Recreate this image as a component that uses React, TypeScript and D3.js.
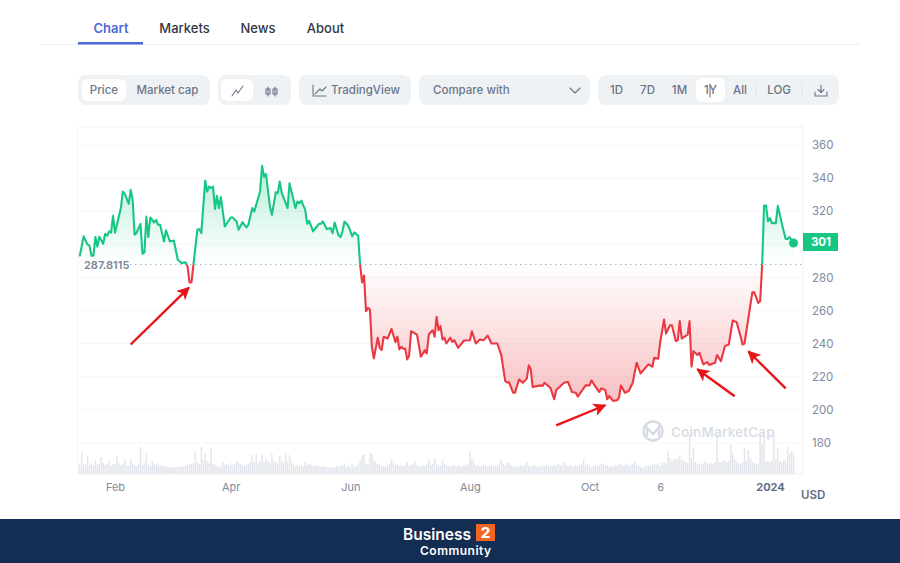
import * as d3 from "d3";
import { useEffect, useRef } from "react";

const startDate = new Date(Date.UTC(2023, 0, 14));
const referencePrice = 287.8115;
const lastPriceLabel = "301";

// days since startDate
const priceDays = [
  0, 2, 4, 5, 6, 7, 8, 9, 10, 12, 13, 14, 15, 16, 17, 18, 21, 22, 23, 25, 26, 27, 28, 29, 31, 32, 33, 34, 35, 36,
  38, 39, 40, 41, 43, 44, 46, 48, 50, 52, 54, 55, 56, 57, 58, 60, 61, 62, 64, 65, 66, 67, 68, 69, 70, 71, 72, 74, 77, 78,
  80, 81, 83, 85, 86, 88, 89, 92, 93, 94, 95, 97, 98, 100, 101, 102, 103, 106, 107, 110, 111, 112, 113, 115, 116, 117, 119, 122, 123, 124,
  126, 128, 129, 130, 132, 133, 134, 135, 137, 139, 140, 142, 143, 144, 145, 146, 147, 148, 149, 150, 152, 153, 154, 155, 157, 159, 161, 162, 163, 164,
  165, 166, 167, 168, 169, 172, 174, 176, 177, 178, 180, 181, 182, 183, 184, 185, 186, 187, 189, 190, 191, 193, 196, 199, 200, 202, 204, 206, 208, 210,
  213, 215, 217, 218, 219, 221, 222, 224, 226, 228, 229, 230, 231, 235, 236, 237, 240, 242, 243, 247, 249, 251, 253, 254, 258, 260, 261, 263, 265, 266,
  268, 269, 270, 272, 274, 275, 276, 278, 280, 282, 284, 286, 290, 292, 293, 295, 296, 298, 299, 301, 302, 304, 305, 306, 307, 310, 311, 312, 313, 315,
  316, 318, 320, 321, 324, 325, 327, 329, 331, 333, 335, 337, 338, 339, 343, 344, 346, 347, 348, 349, 350, 351, 352, 353, 355, 356, 358, 360, 361, 362,
  364,
];

const priceValues = [
  292.7, 304.8, 299.8, 299.2, 293.1, 293.1, 304.4, 298.7, 304.6, 300.4, 306.4, 305.2, 307.8, 307, 317.2, 307, 322, 331.9, 330.5, 324.5, 332.9, 326.9, 305.8, 307, 312.4, 294.3, 295.1, 316.8, 304.4, 316.2,
  313.2, 314.8, 311.8, 311.8, 301.7, 308.4, 301.7, 302.3, 290.7, 288.7, 289.1, 286.7, 277, 277, 287.7, 308.8, 309.2, 306.8, 338.5, 331.9, 334.9, 334.1, 334.9, 321.4, 329.3, 321.9, 328.5, 310.8, 316.2, 316.2,
  313.8, 308.8, 313.4, 310.2, 311.8, 321.9, 319.8, 331.9, 347.5, 340.9, 342.5, 322.8, 317.8, 331.5, 330.9, 337.9, 331.3, 321.9, 336.9, 321.9, 325.8, 324.9, 326.4, 320.8, 312.4, 314.2, 307.8, 312.4, 312.4, 313.8,
  309.2, 309.8, 306.8, 313.2, 305.4, 304.4, 307.8, 313.8, 311.2, 304.8, 307.2, 305.2, 287.7, 277, 281.1, 259.6, 261.6, 260.6, 238.1, 231.1, 243.6, 237.5, 236.1, 244.2, 243.1, 249, 240.9, 244.2, 236.5, 238.1,
  236.9, 236.9, 230.5, 232.9, 247.5, 245.5, 232.1, 236.1, 234.1, 245.5, 248.1, 244.2, 256.2, 248.1, 250.6, 242.5, 243.6, 240.1, 243.6, 241.1, 242.1, 237.5, 241.9, 242.1, 247.5, 240.1, 242.5, 242.1, 244.9, 240.1,
  240.1, 232.9, 217.4, 216.6, 216.6, 210.4, 210.4, 218.4, 216.4, 218.9, 226.9, 224.5, 213.8, 214.8, 214.4, 216.4, 213.4, 206.4, 212, 216.4, 217, 210.8, 210.4, 208, 214.8, 214.8, 217.8, 214, 210.8, 213,
  212, 206.4, 208.4, 205.4, 205.8, 207.4, 214.8, 210.4, 211.4, 216.4, 228.5, 222, 227.5, 226.1, 231.5, 230.9, 240.7, 254.6, 246.1, 251.1, 251.1, 241.5, 242.1, 253.6, 243.1, 245.5, 253.6, 226.1, 235.5, 233.1,
  234.5, 227.5, 228.9, 227.1, 228.5, 233.1, 229.5, 238.5, 239.5, 254, 253, 244.5, 239.5, 240.1, 271, 271, 264.6, 265.6, 287.3, 323.4, 323.4, 313.8, 315.8, 312.8, 312.8, 323.3, 312.8, 303.2, 303.2, 304.4,
  300.8,
];

// one value per day, starting at startDate
const volumeValues = [
  9, 22, 10, 9, 18, 9, 11, 8, 14, 9, 10, 17, 11, 9, 10, 13, 8, 10, 9, 18, 11, 9, 10, 15, 9, 8, 15, 10, 9, 8,
  10, 27, 9, 11, 21, 10, 8, 13, 10, 9, 11, 8, 9, 7, 8, 7, 7, 6, 7, 6, 7, 7, 8, 7, 9, 9, 10, 10, 11, 23,
  12, 10, 27, 14, 20, 13, 11, 26, 10, 9, 8, 7, 8, 12, 9, 10, 8, 11, 9, 10, 13, 11, 10, 9, 8, 9, 10, 12, 19, 12,
  20, 11, 13, 20, 12, 15, 13, 11, 20, 13, 12, 11, 18, 13, 11, 21, 12, 19, 13, 10, 8, 9, 8, 9, 7, 12, 9, 10, 9, 8,
  9, 8, 8, 7, 8, 7, 7, 6, 7, 7, 7, 8, 7, 8, 9, 11, 7, 8, 7, 10, 7, 8, 9, 13, 19, 20, 10, 9, 21, 20,
  14, 12, 10, 9, 8, 8, 7, 9, 10, 15, 11, 9, 10, 8, 9, 8, 9, 12, 8, 9, 10, 13, 9, 8, 7, 9, 8, 10, 14, 9,
  10, 16, 10, 9, 8, 14, 10, 9, 8, 7, 8, 9, 7, 9, 8, 7, 9, 8, 10, 22, 16, 12, 8, 9, 7, 8, 9, 8, 7, 8,
  9, 7, 8, 9, 11, 15, 10, 8, 12, 11, 9, 8, 7, 8, 7, 9, 8, 9, 12, 8, 7, 8, 9, 7, 8, 7, 9, 8, 9, 8,
  7, 8, 9, 8, 10, 9, 8, 12, 9, 8, 9, 8, 7, 9, 8, 9, 10, 15, 9, 10, 8, 7, 8, 9, 8, 9, 10, 11, 8, 9,
  7, 8, 7, 9, 8, 9, 10, 8, 9, 11, 8, 9, 10, 12, 9, 8, 7, 6, 7, 8, 9, 8, 9, 10, 9, 11, 8, 11, 12, 11,
  23, 16, 13, 15, 15, 16, 19, 14, 13, 12, 11, 40, 16, 26, 12, 10, 11, 9, 10, 12, 11, 10, 11, 10, 12, 39, 12, 12, 14, 13,
  12, 13, 29, 21, 14, 12, 11, 10, 12, 26, 13, 24, 16, 12, 11, 10, 9, 39, 30, 39, 13, 12, 12, 14, 39, 15, 26, 13, 12, 14,
  13, 27, 20, 23, 21,
];

const yTicks = [180, 200, 220, 240, 260, 280, 300, 320, 340, 360];
const xTickDates = ["2023-02-01", "2023-04-01", "2023-06-01", "2023-08-01", "2023-10-01", "2023-11-06", "2024-01-01"];
const xTickLabels = ["Feb", "Apr", "Jun", "Aug", "Oct", "6", "2024"];

// red annotation arrows as [tail day, tail price, tip day, tip price]
const arrows = [
  [26, 239.5, 55.7, 273.9],
  [243, 190.7, 268, 202.8],
  [334, 208.2, 315, 224.5],
  [360, 213, 341, 235.3],
];

const green = "#16c784";
const red = "#ea3943";
const font = "Inter, sans-serif";
const grey = "#6b7588";

const dayDate = (d: number) => new Date(startDate.getTime() + d * 86400000);

function Pill({ x, w }: { x: number; w: number }) {
  return <rect x={x} y={75} width={w} height={30} rx={8} fill="#eff2f5" />;
}

function Label(props: { x: number; text: string; color?: string; anchor?: string }) {
  return (
    <text x={props.x} y={94} fontSize={11.5} fontWeight={500} fill={props.color ?? grey} textAnchor={props.anchor ?? "middle"}>
      {props.text}
    </text>
  );
}

export default function App() {
  const chartRef = useRef<SVGGElement>(null);

  useEffect(() => {
    if (!chartRef.current) return;
    const g = d3.select(chartRef.current);
    g.selectAll("*").remove();

    const x = d3.scaleUtc().domain([dayDate(0), dayDate(364)]).range([79.7, 793.5]);
    const y = d3.scaleLinear().domain([180, 360]).range([443, 145]);
    const yVolume = d3.scaleLinear().domain([0, 40]).range([474, 434]);
    const baseY = y(referencePrice);
    const points = priceDays.map((d, i) => ({ date: dayDate(d), value: priceValues[i] }));

    const defs = g.append("defs");
    const addClip = (id: string, top: number, bottom: number) =>
      defs.append("clipPath").attr("id", id).append("rect")
        .attr("x", 78).attr("y", top).attr("width", 726).attr("height", bottom - top);
    addClip("above-ref", 127, baseY);
    addClip("below-ref", baseY, 474);

    const addGradient = (id: string, color: string, y1: number, y2: number, opacity: number) => {
      const grad = defs.append("linearGradient").attr("id", id)
        .attr("gradientUnits", "userSpaceOnUse")
        .attr("x1", 0).attr("x2", 0).attr("y1", y1).attr("y2", y2);
      grad.append("stop").attr("offset", 0).attr("stop-color", color).attr("stop-opacity", opacity);
      grad.append("stop").attr("offset", 1).attr("stop-color", color).attr("stop-opacity", 0);
    };
    addGradient("fill-green", green, 165, baseY, 0.3);
    addGradient("fill-red", red, 402, baseY, 0.32);

    const marker = defs.append("marker").attr("id", "arrow-head")
      .attr("viewBox", "0 0 10 10").attr("refX", 9).attr("refY", 5)
      .attr("markerUnits", "userSpaceOnUse").attr("markerWidth", 15).attr("markerHeight", 13)
      .attr("orient", "auto");
    marker.append("path").attr("d", "M0,0L10,5L0,10L2.5,5Z").attr("fill", "#e8141a");

    // frame and grid
    g.append("g").selectAll("line").data(yTicks).join("line")
      .attr("x1", 78).attr("x2", 803)
      .attr("y1", (d) => y(d)).attr("y2", (d) => y(d))
      .attr("stroke", "#f5f6f8");
    g.append("path").attr("d", "M78,474V127H803V474H78").attr("fill", "none").attr("stroke", "#f0f2f5");

    // volume
    g.append("g").selectAll("rect").data(volumeValues).join("rect")
      .attr("x", (_, i) => x(dayDate(i)) - 0.75)
      .attr("width", 1.5)
      .attr("y", (d) => yVolume(d))
      .attr("height", (d) => yVolume(0) - yVolume(d))
      .attr("fill", "#e3e6ec");

    // watermark
    const mark = g.append("g").attr("fill", "none").attr("stroke", "#d5dae3").attr("stroke-width", 2.4);
    mark.append("circle").attr("cx", 653).attr("cy", 431).attr("r", 9.5);
    mark.append("path").attr("d", "M647,436V428L653,434L659,427V436");
    g.append("text").attr("x", 671).attr("y", 437).attr("font-size", 13.4).attr("font-weight", 600)
      .attr("letter-spacing", 0.2).attr("fill", "#d9dee6").text("CoinMarketCap");

    // price
    const area = d3.area<{ date: Date; value: number }>()
      .x((d) => x(d.date)).y0(baseY).y1((d) => y(d.value));
    const line = d3.line<{ date: Date; value: number }>()
      .x((d) => x(d.date)).y((d) => y(d.value));

    g.append("path").datum(points).attr("d", area).attr("fill", "url(#fill-green)").attr("clip-path", "url(#above-ref)");
    g.append("path").datum(points).attr("d", area).attr("fill", "url(#fill-red)").attr("clip-path", "url(#below-ref)");

    g.append("line").attr("x1", 130).attr("x2", 803).attr("y1", baseY).attr("y2", baseY)
      .attr("stroke", "#a6b0c3").attr("stroke-dasharray", "1.5 3.5");

    g.append("path").datum(points).attr("d", line).attr("fill", "none").attr("stroke", green)
      .attr("stroke-width", 2.1).attr("stroke-linejoin", "round").attr("clip-path", "url(#above-ref)");
    g.append("path").datum(points).attr("d", line).attr("fill", "none").attr("stroke", red)
      .attr("stroke-width", 2.1).attr("stroke-linejoin", "round").attr("clip-path", "url(#below-ref)");

    const last = points[points.length - 1];
    g.append("circle").attr("cx", x(last.date)).attr("cy", y(last.value)).attr("r", 4.5).attr("fill", green);

    g.append("text").attr("x", 84).attr("y", baseY + 4.5).attr("font-size", 11).attr("font-weight", 600)
      .attr("fill", "#7a8497").text("287.8115");

    // axes
    const yAxis = d3.axisRight(y)
      .tickValues(yTicks.filter((t) => t !== 300))
      .tickSize(0).tickPadding(9);
    const yGroup = g.append("g").attr("transform", "translate(803,0)").call(yAxis);
    yGroup.select(".domain").remove();
    yGroup.selectAll("text").attr("font-size", 11.5).attr("font-family", font).attr("font-weight", 400).attr("fill", "#808a9d");

    const xDates = xTickDates.map((d) => new Date(d + "T00:00:00Z"));
    const xAxis = d3.axisBottom(x)
      .tickValues(xDates)
      .tickSize(0).tickPadding(9)
      .tickFormat((_, i) => xTickLabels[i]);
    const xGroup = g.append("g").attr("transform", "translate(0,474)").call(xAxis);
    xGroup.select(".domain").remove();
    xGroup.selectAll("text").attr("font-size", 11).attr("font-family", font).attr("font-weight", 400).attr("fill", "#808a9d");
    xGroup.selectAll("text").filter((_, i) => i === 6).attr("font-weight", 700).attr("fill", "#616e85");

    g.append("rect").attr("x", 803).attr("y", 233).attr("width", 35).attr("height", 18).attr("fill", green);
    g.append("text").attr("x", 821).attr("y", 246).attr("text-anchor", "middle").attr("font-size", 11.5)
      .attr("font-weight", 700).attr("fill", "#fff").text(lastPriceLabel);
    g.append("text").attr("x", 801).attr("y", 499).attr("font-size", 11.5).attr("font-weight", 600)
      .attr("fill", "#616e85").text("USD");

    // annotation arrows
    g.append("g").selectAll("line").data(arrows).join("line")
      .attr("x1", (d) => x(dayDate(d[0]))).attr("y1", (d) => y(d[1]))
      .attr("x2", (d) => x(dayDate(d[2]))).attr("y2", (d) => y(d[3]))
      .attr("stroke", "#e8141a").attr("stroke-width", 2.4).attr("marker-end", "url(#arrow-head)");
  }, []);

  return (
    <svg
      width={900}
      height={563}
      style={{ position: "absolute", left: 0, top: 0, background: "#fff", fontFamily: font }}
    >
      {/* tabs */}
      <line x1={40} x2={860} y1={44.5} y2={44.5} stroke="#eff2f5" />
      <rect x={78} y={42} width={65} height={2.5} fill="#4a6bdc" />
      <text x={111} y={33} textAnchor="middle" fontSize={13} fontWeight={600} fill="#4a6bdc">Chart</text>
      <text x={184.5} y={33} textAnchor="middle" fontSize={13} fontWeight={500} fill="#333743">Markets</text>
      <text x={258} y={33} textAnchor="middle" fontSize={13} fontWeight={500} fill="#333743">News</text>
      <text x={325.5} y={33} textAnchor="middle" fontSize={13} fontWeight={500} fill="#333743">About</text>

      {/* toolbar */}
      <Pill x={78} w={132} />
      <Pill x={218} w={73} />
      <Pill x={299} w={112} />
      <Pill x={419} w={171} />
      <Pill x={598} w={241} />
      <rect x={82} y={79} width={44} height={22} rx={6} fill="#fff" />
      <rect x={221} y={79} width={32} height={22} rx={6} fill="#fff" />
      <rect x={696} y={78} width={29} height={24} rx={6} fill="#fff" />
      <Label x={104} text="Price" />
      <Label x={167.5} text="Market cap" />
      <Label x={365.5} text="TradingView" />
      <Label x={433} text="Compare with" anchor="start" />
      <Label x={616.5} text="1D" />
      <Label x={647.5} text="7D" />
      <Label x={679.5} text="1M" />
      <Label x={710.5} text="1Y" />
      <Label x={740} text="All" />
      <Label x={779} text="LOG" />
      <g fill="none" stroke={grey} strokeWidth={1.1} strokeLinecap="round" strokeLinejoin="round">
        <path d="M232,96L236,90L238,93L243,86" />
        <path d="M268,87V96M275,87V96M266,89h4v5h-4zM273,89h4v5h-4z" />
        <path d="M313,85V96H326M315,94L320,89L322,91L326,87" />
        <path d="M570,88L575,93L580,88" />
        <path d="M710,84V97" />
        <path d="M821,85V92M818,89.5L821,92.5L824,89.5M815,92V96H827V92" />
      </g>
      <line x1={756} x2={756} y1={83} y2={97} stroke="#dfe3ea" />
      <line x1={802} x2={802} y1={83} y2={97} stroke="#dfe3ea" />

      <g ref={chartRef} style={{ fontFamily: font }} />

      {/* footer */}
      <rect x={0} y={519} width={900} height={44} fill="#142d52" />
      <text x={403} y={539.5} fontSize={15.5} fontWeight={600} fill="#fff">Business</text>
      <rect x={476} y={524} width={19} height={17} fill="#f26522" />
      <text x={485.5} y={538} textAnchor="middle" fontSize={15} fontWeight={800} fill="#fff">2</text>
      <text x={420} y={554.5} fontSize={12} fontWeight={600} letterSpacing={0.5} fill="#fff">Community</text>
    </svg>
  );
}
